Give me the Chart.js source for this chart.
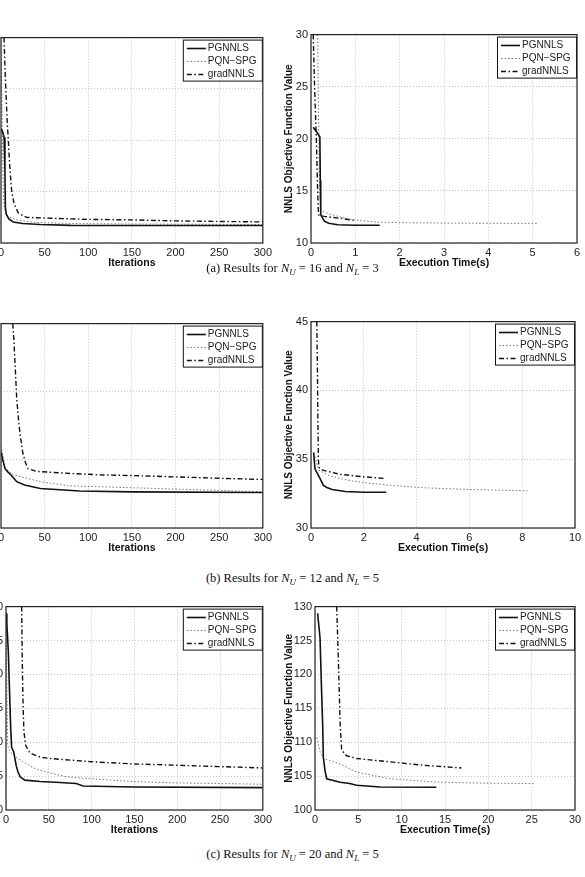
<!DOCTYPE html>
<html>
<head>
<meta charset="utf-8">
<script src="https://cdn.jsdelivr.net/npm/chart.js@4.4.1/dist/chart.umd.min.js"></script>
<style>
  html, body { margin: 0; padding: 0; background: #fff; }
  body { position: relative; width: 585px; height: 877px; overflow: hidden; }
  canvas { position: absolute; }
  .cap { position: absolute; left: 0; width: 585px; text-align: center;
         font-family: "Liberation Serif", "DejaVu Serif", serif; font-size: 12.5px; color: #111; line-height: 16px; }
  .cap sub { font-size: 9px; vertical-align: baseline; position: relative; top: 3px; }
</style>
</head>
<body>
<canvas id="a-iter"></canvas>
<canvas id="a-time"></canvas>
<canvas id="b-iter"></canvas>
<canvas id="b-time"></canvas>
<canvas id="c-iter"></canvas>
<canvas id="c-time"></canvas>
<div class="cap" style="top:260px">(a) Results for <i>N<sub>U</sub></i> = 16 and <i>N<sub>L</sub></i> = 3</div>
<div class="cap" style="top:570px">(b) Results for <i>N<sub>U</sub></i> = 12 and <i>N<sub>L</sub></i> = 5</div>
<div class="cap" style="top:846px">(c) Results for <i>N<sub>U</sub></i> = 20 and <i>N<sub>L</sub></i> = 5</div>
<script>
// series names, in legend order
const seriesNames = ['PGNNLS', 'PQN\u2212SPG', 'gradNNLS'];

// axis ranges [min, max, step]
const iterRange = [0, 300, 50];
const timeRangeA = [0, 6, 1];
const timeRangeB = [0, 10, 2];
const timeRangeC = [0, 30, 5];
const valRangeA = [10, 30, 5];
const valRangeB = [30, 45, 5];
const valRangeC = [100, 130, 5];

// (a) N_U = 16, N_L = 3 -- [x, objective]
const aIterPg = [[0, 21.1], [2, 20.8], [3.5, 20.3], [4.5, 17], [5, 13.5], [6, 12.8], [9, 12.35], [14, 12.05], [25, 11.9], [45, 11.8], [80, 11.72], [150, 11.7], [300, 11.7]];
const aIterPqn = [[0, 30], [1, 24], [2, 18], [3, 14], [5, 12.9], [10, 12.5], [20, 12.2], [40, 12.0], [80, 11.9], [150, 11.85], [300, 11.8]];
const aIterGrad = [[3.4, 30], [5, 26], [7, 22], [8.4, 20], [10, 17.5], [12.2, 15.1], [15, 13.8], [20, 12.9], [29, 12.5], [60, 12.4], [100, 12.3], [150, 12.25], [200, 12.15], [300, 12.05]];
const aTimePg = [[0.05, 21.1], [0.12, 20.7], [0.2, 20.2], [0.21, 16], [0.22, 12.7], [0.3, 12.1], [0.4, 11.9], [0.6, 11.75], [1.0, 11.7], [1.55, 11.7]];
const aTimePqn = [[0.15, 30], [0.17, 22], [0.19, 16], [0.22, 13.1], [0.4, 12.8], [0.7, 12.45], [1.0, 12.2], [1.5, 12.0], [2.0, 11.95], [3.5, 11.9], [5.1, 11.88]];
const aTimeGrad = [[0.05, 30], [0.08, 25], [0.12, 20], [0.15, 15], [0.17, 12.7], [0.3, 12.55], [0.5, 12.45], [0.7, 12.35], [1.0, 12.15]];

// (b) N_U = 12, N_L = 5
const bIterPg = [[0, 35.6], [2, 35.0], [4.6, 34.35], [8, 34.1], [12, 33.85], [18, 33.4], [27, 33.15], [45, 32.9], [90, 32.72], [150, 32.65], [300, 32.6]];
const bIterPqn = [[0, 36], [5, 34.4], [14, 33.9], [45, 33.4], [76, 33.1], [152, 32.95], [300, 32.66]];
const bIterGrad = [[13.5, 45], [15, 43.5], [16.5, 41.5], [18, 39.5], [20, 38], [22, 36.8], [25, 35.5], [28, 34.8], [31, 34.35], [41, 34.15], [80, 34.0], [113, 33.9], [150, 33.85], [190, 33.77], [250, 33.65], [300, 33.56]];
const bTimePg = [[0.1, 35.5], [0.15, 34.3], [0.22, 34.05], [0.34, 33.6], [0.47, 33.1], [0.6, 32.95], [0.8, 32.8], [1.3, 32.65], [2, 32.6], [2.85, 32.6]];
const bTimePqn = [[0.15, 35.2], [0.3, 34.2], [0.7, 33.8], [1.2, 33.55], [1.74, 33.36], [3.0, 33.1], [4.3, 32.92], [6, 32.8], [8.2, 32.7]];
const bTimeGrad = [[0.22, 45], [0.24, 42], [0.26, 38], [0.28, 35], [0.3, 34.4], [0.45, 34.2], [1.1, 33.9], [2.0, 33.72], [2.8, 33.6]];

// (c) N_U = 20, N_L = 5
const cIterPg = [[0, 129], [1, 127.5], [2.7, 123.4], [4, 118], [5.5, 112], [6.6, 109.2], [9, 108.6], [10.5, 107.5], [12, 106.5], [14, 105.6], [16.5, 104.9], [22, 104.4], [40, 104.2], [63, 104.05], [82, 103.9], [90, 103.55], [148, 103.4], [300, 103.3]];
const cIterPqn = [[0, 129], [1, 118], [2, 109.5], [5, 108.5], [15, 107.5], [32, 106.2], [50, 105.5], [71, 104.9], [100, 104.6], [148, 104.2], [200, 104], [300, 103.8]];
const cIterGrad = [[18.3, 130], [19, 122], [20, 115], [21, 111.5], [23, 109.5], [28, 108.4], [40, 107.8], [51, 107.6], [102, 107.1], [148, 106.8], [199, 106.6], [250, 106.4], [300, 106.2]];
const cTimePg = [[0.3, 129], [0.58, 125.4], [0.75, 118], [0.88, 112.7], [0.96, 107.8], [1.15, 105.85], [1.35, 104.6], [2.9, 104.1], [4.0, 103.9], [4.8, 103.65], [7.5, 103.4], [14.0, 103.35]];
const cTimePqn = [[0.2, 110.7], [0.6, 108.5], [1, 107.6], [2.9, 106.8], [4.8, 105.6], [8.65, 104.6], [14.4, 104.1], [20, 103.95], [25.4, 103.9]];
const cTimeGrad = [[2.5, 130], [2.7, 122], [2.9, 112.7], [3.08, 108.8], [3.65, 108], [4.8, 107.6], [8.65, 107.1], [12.5, 106.6], [16.9, 106.2]];

// plot boxes on the page: [left, top, right, bottom]
const panels = [
    { id: 'a-iter', box: [1, 36, 263, 243], xTitle: 'Iterations', xr: iterRange, yr: valRangeA, data: [aIterPg, aIterPqn, aIterGrad], yTitle: false },
    { id: 'a-time', box: [311, 33, 577, 243], xTitle: 'Execution Time(s)', xr: timeRangeA, yr: valRangeA, data: [aTimePg, aTimePqn, aTimeGrad], yTitle: true },
    { id: 'b-iter', box: [1, 322, 263, 528], xTitle: 'Iterations', xr: iterRange, yr: valRangeB, data: [bIterPg, bIterPqn, bIterGrad], yTitle: false },
    { id: 'b-time', box: [311, 320, 575, 528], xTitle: 'Execution Time(s)', xr: timeRangeB, yr: valRangeB, data: [bTimePg, bTimePqn, bTimeGrad], yTitle: true },
    { id: 'c-iter', box: [6, 605, 263, 810], xTitle: 'Iterations', xr: iterRange, yr: valRangeC, data: [cIterPg, cIterPqn, cIterGrad], yTitle: false },
    { id: 'c-time', box: [315, 605, 575, 810], xTitle: 'Execution Time(s)', xr: timeRangeC, yr: valRangeC, data: [cTimePg, cTimePqn, cTimeGrad], yTitle: true },
];

const lineStyles = [
    { color: '#111', width: 1.6, dash: [] },
    { color: '#777', width: 1, dash: [1.5, 2] },
    { color: '#111', width: 1.4, dash: [5, 2.5, 1.5, 2.5] },
];

const Y_W = 40, X_H = 26, PAD_T = 8, PAD_R = 12;
const FONT = "'Liberation Sans', Arial, sans-serif";

// box frame + in-plot legend, drawn over the lines
const framePlugin = {
    id: 'frameLegend',
    afterDatasetsDraw(chart) {
        const { ctx, chartArea: a } = chart;
        ctx.save();
        // legend box
        const lw = 79, lh = 41;
        const lx = a.right - lw - 1, ly = a.top + 2;
        ctx.fillStyle = '#fff';
        ctx.fillRect(lx, ly, lw, lh);
        ctx.strokeStyle = '#111';
        ctx.lineWidth = 1;
        ctx.strokeRect(lx + 0.5, ly + 0.5, lw, lh);
        ctx.font = '10px ' + FONT;
        ctx.textBaseline = 'middle';
        seriesNames.forEach((name, i) => {
            const st = lineStyles[i];
            const y = Math.round(ly + 8 + i * 13) + 0.5;
            ctx.strokeStyle = st.color;
            ctx.lineWidth = st.width;
            ctx.setLineDash(st.dash);
            ctx.beginPath();
            ctx.moveTo(lx + 4, y);
            ctx.lineTo(lx + 23, y);
            ctx.stroke();
            ctx.setLineDash([]);
            ctx.fillStyle = '#222';
            ctx.fillText(name, lx + 25, y);
        });
        // plot frame
        ctx.strokeStyle = '#222';
        ctx.lineWidth = 1.2;
        ctx.strokeRect(a.left, a.top, a.right - a.left, a.bottom - a.top);
        ctx.restore();
    }
};

panels.forEach(p => {
    const [l, t, r, b] = p.box;
    const canvas = document.getElementById(p.id);
    const cw = Y_W + (r - l) + PAD_R;
    const ch = PAD_T + (b - t) + X_H;
    canvas.width = cw;
    canvas.height = ch;
    canvas.style.left = (l - Y_W) + 'px';
    canvas.style.top = (t - PAD_T) + 'px';
    canvas.style.width = cw + 'px';
    canvas.style.height = ch + 'px';

    const datasets = p.data.map((pts, i) => ({
        label: seriesNames[i],
        data: pts.map(([x, y]) => ({ x, y })),
        borderColor: lineStyles[i].color,
        borderWidth: lineStyles[i].width,
        borderDash: lineStyles[i].dash,
        pointRadius: 0,
        tension: 0,
        fill: false,
    }));

    const grid = { color: '#c4c4c4', lineWidth: 1, drawTicks: false };
    const border = { display: false, dash: [1, 2] };
    const tickFont = { family: FONT, size: 11 };
    const titleFont = { family: FONT, size: 10.5, weight: 'bold' };

    new Chart(canvas, {
        type: 'line',
        data: { datasets },
        plugins: [framePlugin],
        options: {
            responsive: false,
            animation: false,
            devicePixelRatio: 1,
            layout: { padding: { top: PAD_T, right: PAD_R, left: 0, bottom: 0 } },
            plugins: { legend: { display: false }, tooltip: { enabled: false } },
            scales: {
                x: {
                    type: 'linear',
                    min: p.xr[0], max: p.xr[1],
                    ticks: { stepSize: p.xr[2], color: '#222', font: tickFont, padding: 3, maxRotation: 0 },
                    grid, border,
                    title: { display: true, text: p.xTitle, color: '#111', font: titleFont, padding: { top: 0, bottom: 0 } },
                    afterFit: s => { s.height = X_H; },
                },
                y: {
                    type: 'linear',
                    min: p.yr[0], max: p.yr[1],
                    ticks: { stepSize: p.yr[2], color: '#222', font: tickFont, padding: 3 },
                    grid, border,
                    title: {
                        display: p.yTitle, text: 'NNLS Objective Function Value', color: '#111',
                        font: { family: FONT, size: 10, weight: 'bold' },
                        padding: { top: 289 - 6 - (l - Y_W), bottom: 0 },
                    },
                    afterFit: s => { s.width = Y_W; },
                },
            },
        },
    });
});
</script>
</body>
</html>
